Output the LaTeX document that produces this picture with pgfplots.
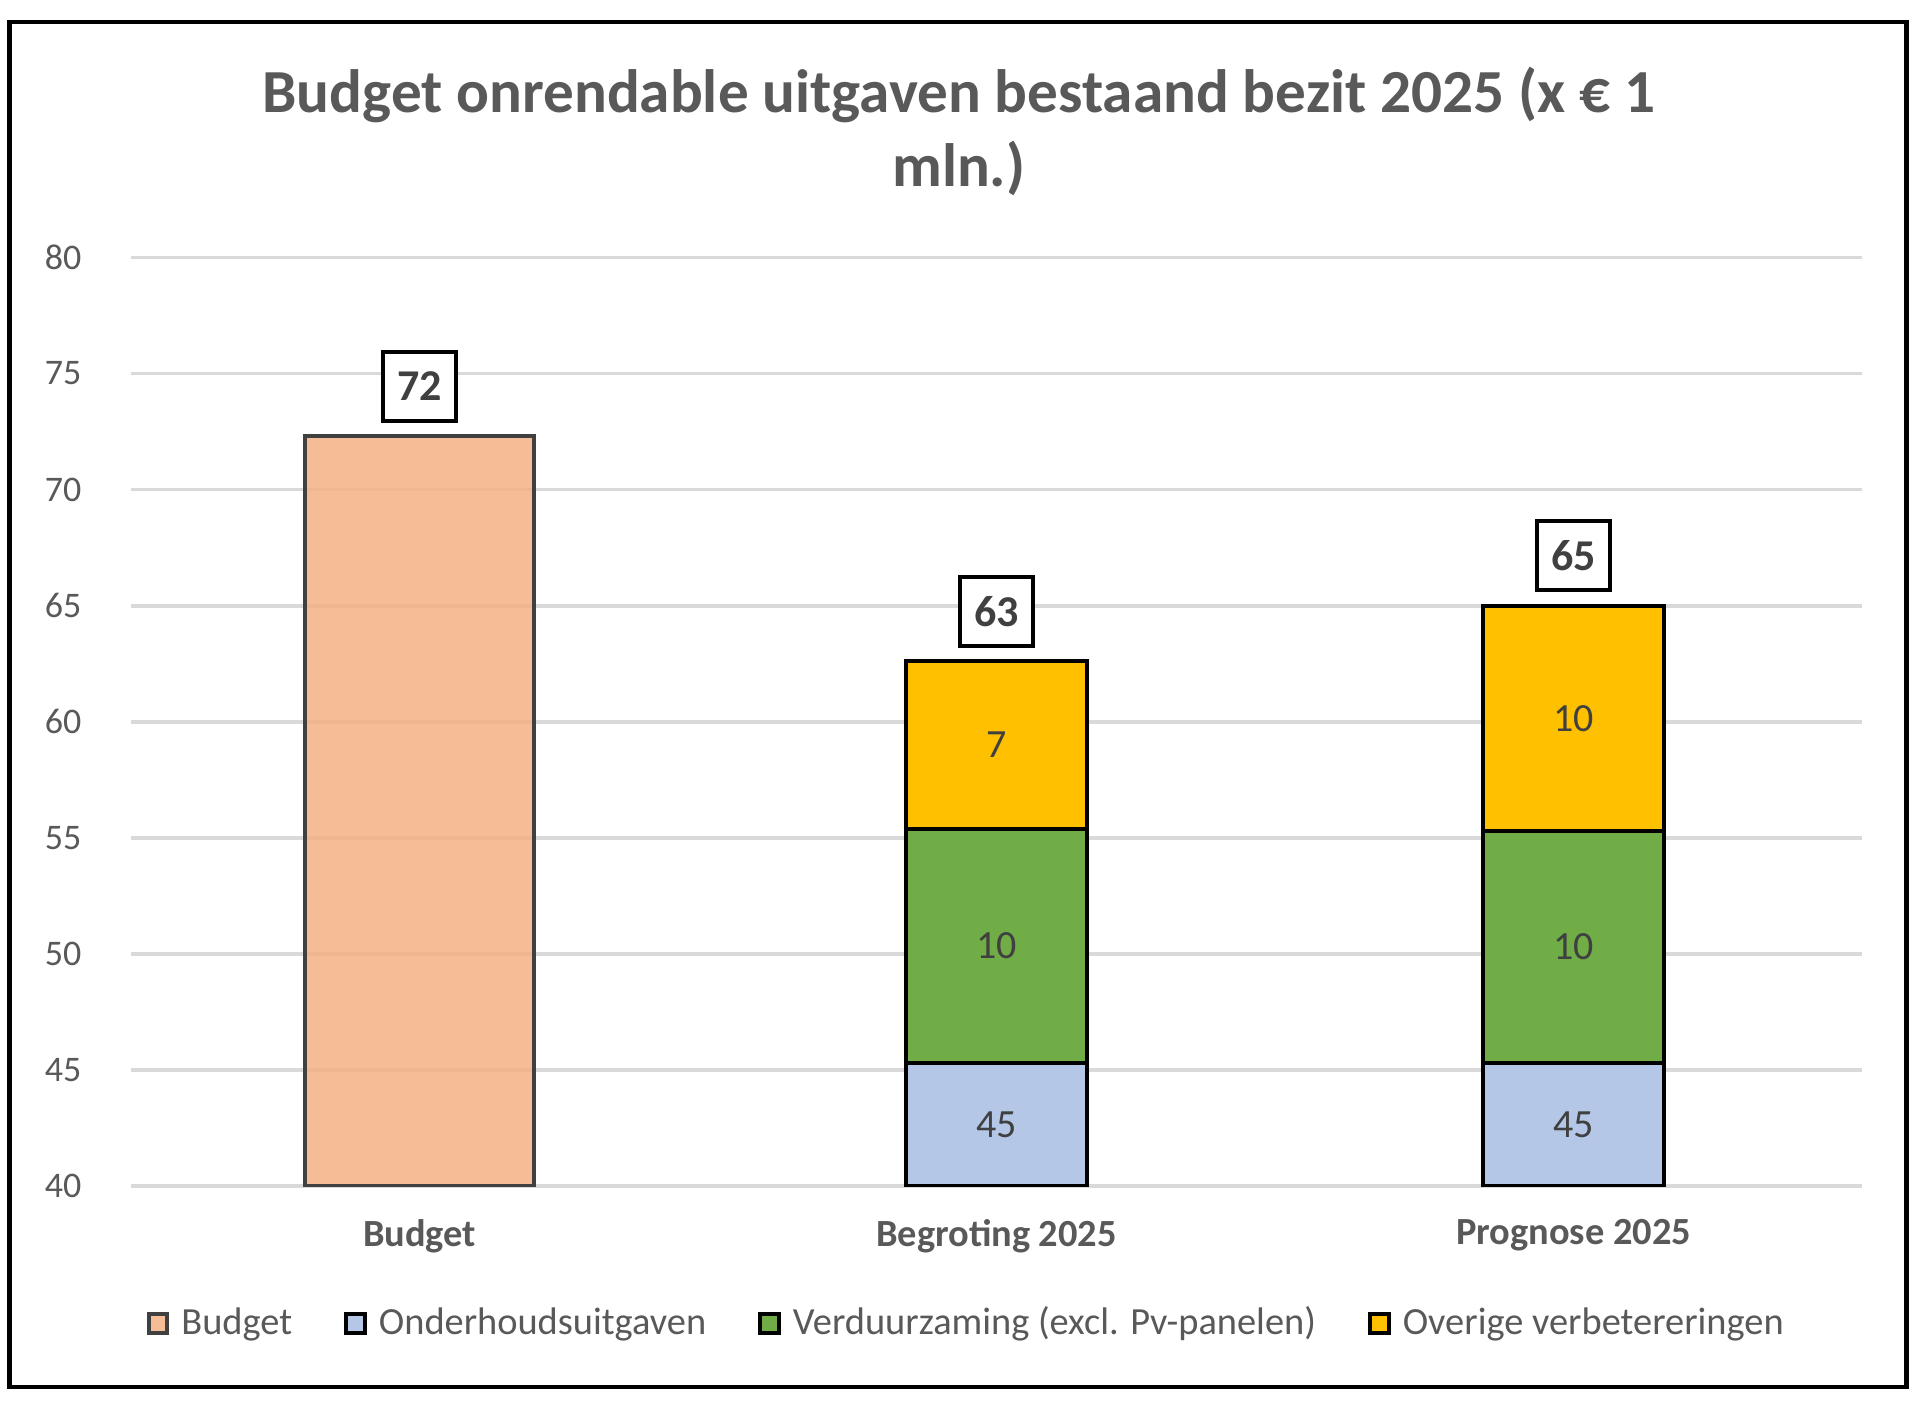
\documentclass[border=0pt]{standalone}
\usepackage{pgfplots}
\pgfplotsset{compat=1.18}
\usepackage{fontspec}
\setmainfont{Carlito}
\definecolor{tickgray}{HTML}{595959}
\definecolor{labgray}{HTML}{404040}
\definecolor{gridgray}{HTML}{D9D9D9}
\definecolor{budgetc}{HTML}{F4B183}
\definecolor{onderhoud}{HTML}{B4C7E7}
\definecolor{verduurz}{HTML}{70AD47}
\definecolor{overige}{HTML}{FFC000}
\pgfplotsset{
  common/.style={
    at={(32.75pt,54.7pt)}, anchor=south west,
    scale only axis, width=432.75pt, height=232.2pt,
    xmin=-0.5, xmax=2.5, ymin=40, ymax=80,
    /pgf/number format/assume math mode=true,
  },
  sqlegend/.style={legend image code/.code={\draw[##1,line width=1pt] (0pt,-2.35pt) rectangle (4.7pt,2.35pt);}},
  totlabel/.style={nodes near coords={\pgfmathprintnumber[fixed,precision=0,assume math mode=true]{\pgfplotspointmeta}},
    every node near coord/.append style={anchor=south, yshift=3.4pt, draw=black, line width=1pt, fill=white,
      fill opacity=1, draw opacity=1, text opacity=1,
      text=labgray, font=\bfseries\fontsize{11}{13}\selectfont, minimum width=18.4pt, minimum height=17.2pt, inner sep=0pt}},
  inlabel/.style={nodes near coords={\pgfmathprintnumber[fixed,precision=0,assume math mode=true]{\pgfplotspointmeta}},
    every node near coord/.append style={anchor=center, text=labgray, font=\fontsize{10}{12}\selectfont}},
}
\begin{document}
\begin{tikzpicture}
\path[use as bounding box, fill=white] (0,0) rectangle (480pt,351.25pt);
\draw[line width=1.1pt] (2.33pt,4.5pt) rectangle (476.6pt,345.7pt);
\node[anchor=base, font=\bfseries\fontsize{15.3}{18.4}\selectfont, text=tickgray, inner sep=0pt] at (239.7pt,323.1pt) {Budget onrendable uitgaven bestaand bezit 2025 (x € 1};
\node[anchor=base, font=\bfseries\fontsize{15.3}{18.4}\selectfont, text=tickgray, inner sep=0pt] at (239.7pt,304.7pt) {mln.)};

\begin{axis}[common,
  axis line style={draw=none}, tick style={draw=none},
  ymajorgrids, grid style={gridgray, line width=0.9pt},
  ytick={40,45,...,80},
  xtick={0,1,2}, xticklabels={Budget, Begroting 2025, Prognose 2025},
  yticklabel style={font=\fontsize{9}{11}\selectfont, text=tickgray, anchor=east, xshift=-8.9pt},
  xticklabel style={font=\bfseries\fontsize{9.6}{11}\selectfont, text=tickgray, anchor=north, yshift=-4.8pt},
]
\addplot[ybar, bar width=57pt, bar shift=0pt, fill=budgetc, fill opacity=0.85, draw=labgray, line width=1pt, totlabel]
  coordinates {(0,72.3)};
% totals of the stacked bars
\addplot[ybar, bar width=45.2pt, bar shift=0pt, draw=none, fill=none, totlabel]
  coordinates {(1,62.6) (2,65.0)};
\end{axis}

\begin{axis}[common, hide axis, clip mode=individual,
  ybar stacked, bar width=45.2pt,
  legend columns=4,
  legend style={at={(axis description cs:0.4853,-0.1482)}, anchor=center, draw=none, fill=none,
    font=\fontsize{9.6}{11}\selectfont, text=tickgray,
    nodes={inner xsep=3pt, inner ysep=1pt},
    /tikz/every even column/.append style={column sep=10pt}},
]
\addlegendimage{sqlegend, fill=budgetc, fill opacity=0.85, draw=labgray}
\addlegendentry{Budget}
\addplot[fill=onderhoud, draw=black, line width=1pt, sqlegend, inlabel,
  every node near coord/.append style={shift={(axis direction cs:0,20)}}]
  coordinates {(1,45.3) (2,45.3)};
\addlegendentry{Onderhoudsuitgaven}
\addplot[fill=verduurz, draw=black, line width=1pt, sqlegend, inlabel]
  coordinates {(1,10.1) (2,10.0)};
\addlegendentry{Verduurzaming (excl. Pv-panelen)}
\addplot[fill=overige, draw=black, line width=1pt, sqlegend, inlabel]
  coordinates {(1,7.2) (2,9.7)};
\addlegendentry{Overige verbetereringen}
\end{axis}
\end{tikzpicture}
\end{document}
